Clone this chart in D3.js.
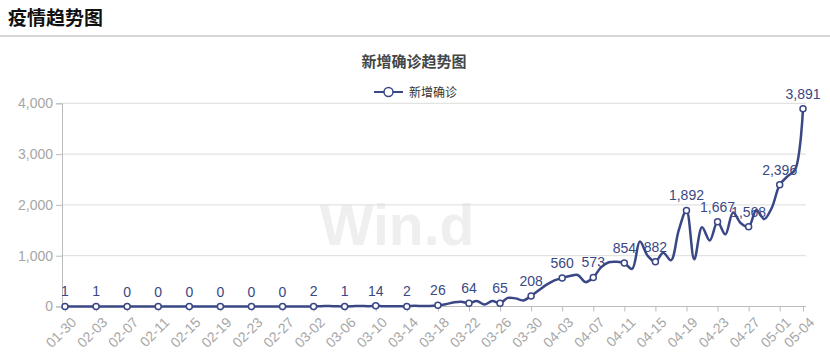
<!DOCTYPE html>
<html><head><meta charset="utf-8">
<script src="https://cdn.jsdelivr.net/npm/d3@7"></script>
<style>
html,body{margin:0;padding:0;background:#fff;}
svg{display:block;}
</style></head>
<body>
<svg id="chart" width="830" height="356"></svg>
<script>
const dates = ["01-30","01-31","02-01","02-02","02-03","02-04","02-05","02-06","02-07","02-08","02-09","02-10",
"02-11","02-12","02-13","02-14","02-15","02-16","02-17","02-18","02-19","02-20","02-21","02-22",
"02-23","02-24","02-25","02-26","02-27","02-28","02-29","03-01","03-02","03-03","03-04","03-05",
"03-06","03-07","03-08","03-09","03-10","03-11","03-12","03-13","03-14","03-15","03-16","03-17",
"03-18","03-19","03-20","03-21","03-22","03-23","03-24","03-25","03-26","03-27","03-28","03-29",
"03-30","03-31","04-01","04-02","04-03","04-04","04-05","04-06","04-07","04-08","04-09","04-10",
"04-11","04-12","04-13","04-14","04-15","04-16","04-17","04-18","04-19","04-20","04-21","04-22",
"04-23","04-24","04-25","04-26","04-27","04-28","04-29","04-30","05-01","05-02","05-03","05-04"];
const newCases = [1,0,0,1,1,0,1,0,0,0,0,0,
0,0,0,0,0,0,0,0,0,0,0,0,
0,0,0,0,0,0,1,1,2,6,10,3,
1,4,12,6,14,5,6,4,2,14,8,12,
26,45,80,95,64,110,40,110,65,170,160,120,
208,320,430,515,560,600,620,480,573,770,870,880,
854,740,1280,1000,882,1060,910,1500,1892,930,1560,1300,
1667,1420,1850,1640,1568,1900,1720,1950,2396,2560,2700,3891];
const yTicks = [0,1000,2000,3000,4000];
const seriesName = "新增确诊";
const chartTitle = "新增确诊趋势图";
const pageTitle = "疫情趋势图";

(function(){
const svg = d3.select("#chart");
const color = "#3a4785";
const pLeft = 65, pRight = 803, pTop = 103.3, pBottom = 306.5;
const latin = "'Liberation Sans', Arial, sans-serif";
const cjk = "'Noto Sans CJK SC', sans-serif";

// page header
svg.append("text").attr("x", 8).attr("y", 25)
  .attr("font-family", cjk).attr("font-weight", "bold")
  .attr("font-size", 19).attr("fill", "#111").text(pageTitle);
svg.append("rect").attr("x", 0).attr("y", 35).attr("width", 830).attr("height", 2).attr("fill", "#d6d6d6");

// watermark
svg.append("text").attr("x", 397).attr("y", 245).attr("text-anchor", "middle")
  .attr("font-family", latin).attr("font-weight", "bold")
  .attr("font-size", 57).attr("fill", "#efefef").text("Win.d");

// chart title
svg.append("text").attr("x", 414).attr("y", 67).attr("text-anchor", "middle")
  .attr("font-family", cjk).attr("font-weight", "bold")
  .attr("font-size", 15).attr("fill", "#464646").text(chartTitle);

// legend
const lg = svg.append("g");
lg.append("line").attr("x1", 374).attr("x2", 403).attr("y1", 92).attr("y2", 92)
  .attr("stroke", color).attr("stroke-width", 2);
lg.append("circle").attr("cx", 388.5).attr("cy", 92).attr("r", 4.5)
  .attr("fill", "#fff").attr("stroke", color).attr("stroke-width", 1.5);
lg.append("text").attr("x", 409).attr("y", 96.5)
  .attr("font-family", cjk)
  .attr("font-size", 12).attr("fill", "#333").text(seriesName);

const x = d3.scalePoint().domain(dates).range([pLeft, pRight]);
const y = d3.scaleLinear().domain([0, 4000]).range([pBottom, pTop]);

// grid
svg.append("g").selectAll("line").data(yTicks.slice(1)).join("line")
  .attr("x1", 62).attr("x2", 806).attr("y1", d => y(d)).attr("y2", d => y(d))
  .attr("stroke", "#dcdcdc").attr("stroke-width", 1);

// y axis
const yAxis = svg.append("g").attr("transform", "translate(62,0)")
  .call(d3.axisLeft(y).tickValues(yTicks).tickSize(6).tickPadding(3).tickFormat(d3.format(",")));
yAxis.select(".domain").attr("stroke", "#bbb");
yAxis.selectAll(".tick line").attr("stroke", "#bbb");
yAxis.selectAll("text").attr("fill", "#a6a6a6").attr("font-size", 14)
  .attr("font-family", latin);

// x axis
const labelIdx = dates.map((d, i) => i).filter(i => i % 4 === 0 || i === dates.length - 1);
const labelDates = labelIdx.map(i => dates[i]);
const xAxis = svg.append("g").attr("transform", `translate(0,${pBottom})`)
  .call(d3.axisBottom(x).tickValues(labelDates).tickSize(5).tickSizeOuter(0));
xAxis.select(".domain").attr("d", `M62,0H806`).attr("stroke", "#bbb");
xAxis.selectAll(".tick line").attr("stroke", "#bbb");
xAxis.selectAll("text").attr("fill", "#a6a6a6").attr("font-size", 14)
  .attr("font-family", latin)
  .attr("text-anchor", "end").attr("dy", 0).attr("dx", 0)
  .attr("transform", "translate(6,11) rotate(-45)");

// line
const pts = dates.map((d, i) => ({d, v: newCases[i], i}));
svg.append("path").datum(pts)
  .attr("d", d3.line().x(p => x(p.d)).y(p => y(p.v)).curve(d3.curveCatmullRom.alpha(0.5)))
  .attr("fill", "none").attr("stroke", color).attr("stroke-width", 2.5);

const marked = pts.filter(p => labelIdx.includes(p.i));
svg.append("g").selectAll("circle").data(marked).join("circle")
  .attr("cx", p => x(p.d)).attr("cy", p => y(p.v)).attr("r", 3)
  .attr("fill", "#fff").attr("stroke", color).attr("stroke-width", 1.5);
svg.append("g").selectAll("text").data(marked).join("text")
  .attr("x", p => x(p.d)).attr("y", p => y(p.v) - 10).attr("text-anchor", "middle")
  .attr("font-family", latin)
  .attr("font-size", 14).attr("fill", color).text(p => d3.format(",")(p.v));
})();
</script>
</body></html>
